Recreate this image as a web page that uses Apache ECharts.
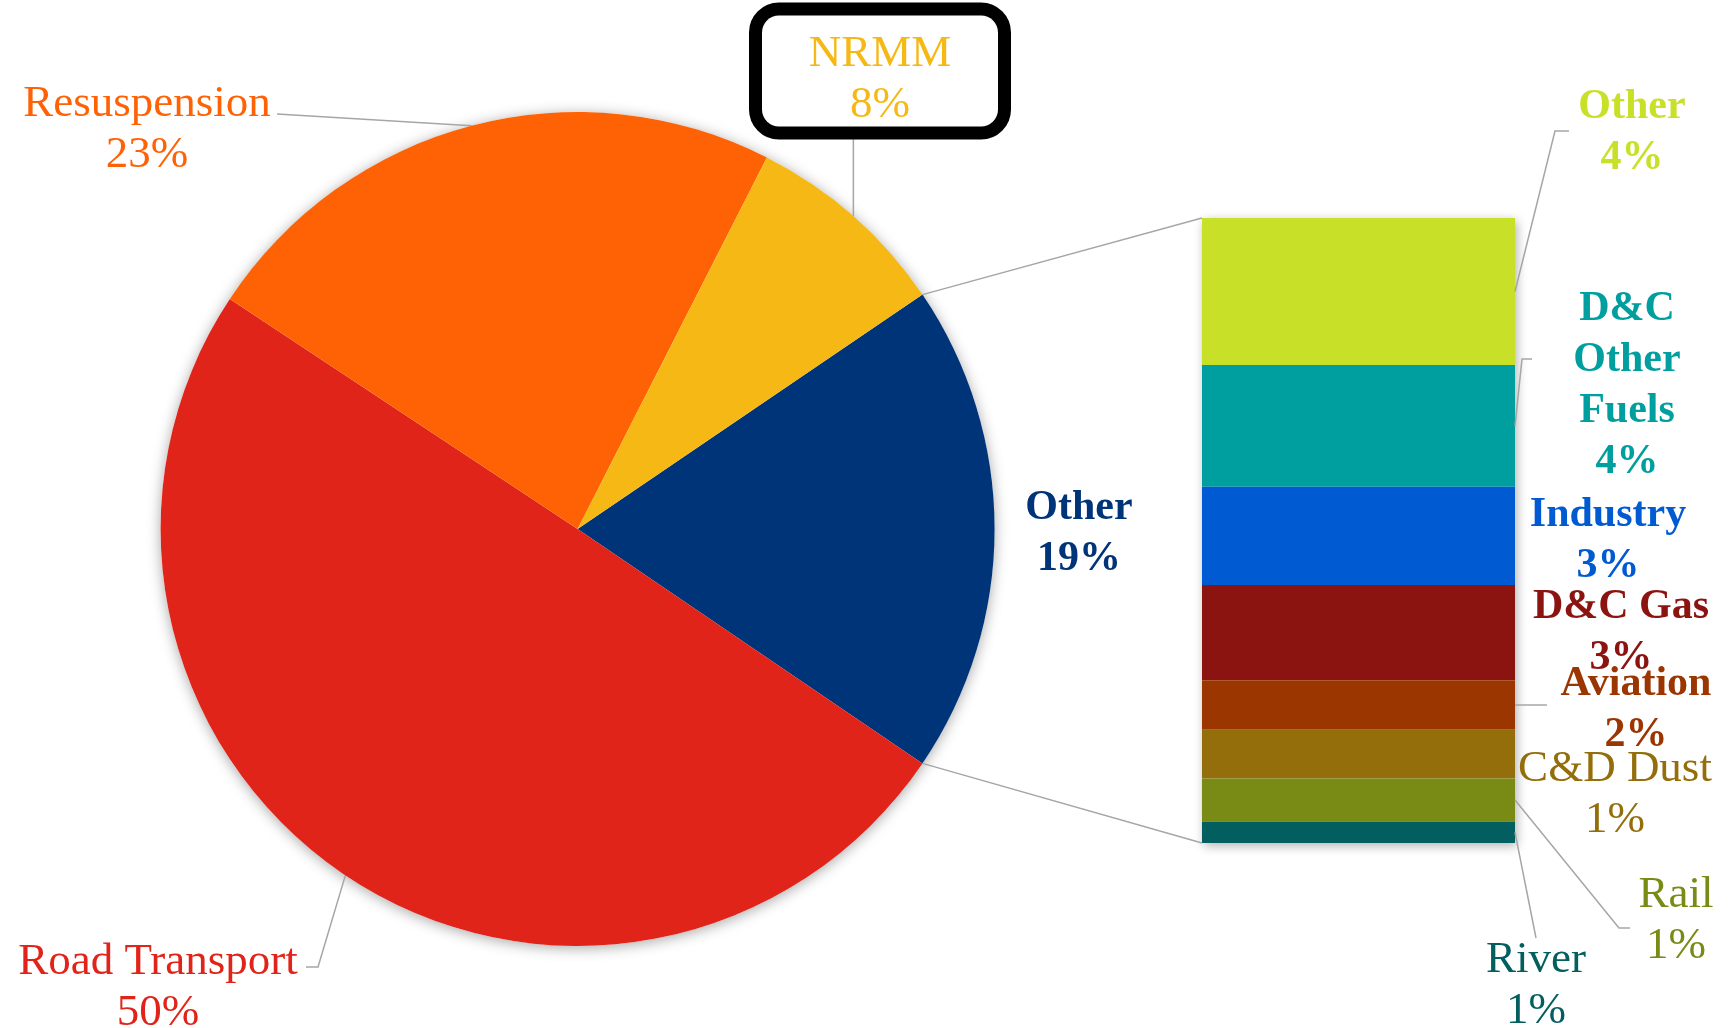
<!DOCTYPE html>
<html>
<head>
<meta charset="utf-8">
<title>PM sources</title>
<script src="https://cdn.jsdelivr.net/npm/echarts@6/dist/echarts.min.js"></script>
<style>
  html, body { margin: 0; padding: 0; background: #ffffff; }
  #chart { width: 1735px; height: 1028px; }
</style>
</head>
<body>
<div id="chart"></div>
<script>
// ---- data -------------------------------------------------------------
// main pie (percent of total), drawn clockwise starting with "Other"
const mainNames  = ['Other', 'Road Transport', 'Resuspension', 'NRMM'];
const mainValues = [19.0, 49.8, 23.2, 8.0];
const mainColors = ['#003479', '#E0241A', '#FF6205', '#F5B815'];

// breakdown of the "Other" slice, top to bottom in the stacked bar
const subNames  = ['Other', 'D&C Other Fuels', 'Industry', 'D&C Gas', 'Aviation', 'C&D Dust', 'Rail', 'River'];
const subLabels = ['Other', 'D&C\nOther\nFuels', 'Industry', 'D&C Gas', 'Aviation', 'C&D Dust', 'Rail', 'River'];
const subValues = [4.47, 3.70, 2.99, 2.89, 1.51, 1.48, 1.31, 0.65];
const subColors = ['#C9E028', '#009F9F', '#005BD3', '#8B1411', '#9B3601', '#946E0A', '#798A15', '#035F5F'];

// ---- layout -----------------------------------------------------------
const FONT = '"Liberation Serif", "Times New Roman", serif';
const LINE_COLOR = '#A6A6A6';
const PIE_CENTER = [577.6, 529];
const PIE_R = 417;
const BAR_BOX = { left: 1202, top: 218, width: 313, height: 625 };

// label placement for the main pie (centre of each text block) and leader elbows;
// the boxed label is anchored by the top edge of its box
const mainSpots = [
  { x: 1079, y: 534, size: 42, weight: 'bold' },
  { x: 158,  y: 988, size: 45, weight: 'normal', line: [[318, 967], [306, 967]] },
  { x: 147,  y: 130, size: 45, weight: 'normal', line: [[277, 114]] },
  { x: 880,  y: 15.5, size: 45, weight: 'normal', line: [[null, 134]], boxed: true }
];

// label placement for the stacked bar and leader elbows (null y = keep start y)
const subSpots = [
  { x: 1632, y: 133, size: 42, weight: 'bold',   line: [[1555, 131], [1569, 131]] },
  { x: 1627, y: 386, size: 42, weight: 'bold',   line: [[1522, 359], [1532, 359]] },
  { x: 1608, y: 541, size: 42, weight: 'bold' },
  { x: 1621, y: 633, size: 42, weight: 'bold' },
  { x: 1636, y: 710, size: 42, weight: 'bold',   line: [[1547, null]] },
  { x: 1615, y: 795, size: 45, weight: 'normal' },
  { x: 1676, y: 921, size: 45, weight: 'normal', line: [[1619, 928], [1630, 928]] },
  { x: 1536, y: 986, size: 45, weight: 'normal', line: [[1536, 938]] }
];

const mainTotal = mainValues.reduce((a, b) => a + b, 0);
const subTotal = subValues.reduce((a, b) => a + b, 0);
// rotate so that the "Other" slice is centred on the 3 o'clock direction
const startAngle = mainValues[0] / mainTotal * 180;
const subStarts = subValues.map((v, i) => subValues.slice(0, i).reduce((a, b) => a + b, 0));

const pct = v => Math.round(v) + '%';

// ---- chart ------------------------------------------------------------
const chart = echarts.init(document.getElementById('chart'), null, { renderer: 'canvas' });

const pieData = mainNames.map((name, i) => {
  const s = mainSpots[i];
  const label = {
    color: mainColors[i],
    fontSize: s.size,
    fontWeight: s.weight
  };
  if (s.boxed) {
    Object.assign(label, {
      backgroundColor: '#ffffff',
      borderColor: '#000000',
      borderWidth: 13,
      borderRadius: 17,
      padding: [13, 0, 0, 0],
      width: 236,
      height: 98,
      align: 'center'
    });
  }
  return {
    name: name,
    value: mainValues[i],
    itemStyle: { color: mainColors[i] },
    label: label,
    labelLine: { show: !!s.line }
  };
});

const subBarSeries = subNames.map((name, i) => {
  const s = subSpots[i];
  return {
    type: 'bar',
    name: name,
    stack: 'other',
    barWidth: '100%',
    barGap: '-100%',
    silent: true,
    z: 3,
    data: [subValues[i]],
    itemStyle: { color: subColors[i] },
    label: {
      show: true,
      formatter: () => subLabels[i] + '\n' + pct(subValues[i]),
      color: subColors[i],
      fontFamily: FONT,
      fontSize: s.size,
      fontWeight: s.weight,
      lineHeight: 51,
      align: 'center'
    },
    labelLayout: { x: s.x, y: s.y, align: 'center', verticalAlign: 'middle' }
  };
});

const option = {
  animation: false,
  backgroundColor: '#ffffff',
  grid: Object.assign({ containLabel: false }, BAR_BOX),
  xAxis: { type: 'category', data: ['Other'], show: false },
  yAxis: { type: 'value', inverse: true, min: 0, max: subTotal, show: false },
  series: [
    // soft drop shadow behind the pie
    {
      type: 'pie',
      center: PIE_CENTER,
      radius: PIE_R,
      silent: true,
      z: 1,
      label: { show: false },
      labelLine: { show: false },
      itemStyle: { color: '#ffffff', shadowBlur: 14, shadowOffsetY: 2, shadowColor: 'rgba(0,0,0,0.35)' },
      data: [{ value: mainTotal }]
    },
    {
      type: 'pie',
      center: PIE_CENTER,
      radius: PIE_R,
      startAngle: startAngle,
      clockwise: true,
      avoidLabelOverlap: false,
      silent: true,
      z: 2,
      emphasis: { disabled: true },
      data: pieData,
      label: {
        show: true,
        position: 'outside',
        fontFamily: FONT,
        lineHeight: 51,
        formatter: p => p.name + '\n' + pct(p.value)
      },
      labelLine: { show: true, lineStyle: { color: LINE_COLOR, width: 1.5 } },
      labelLayout: function (p) {
        const s = mainSpots[p.dataIndex];
        const out = { x: s.x, y: s.y, align: 'center', verticalAlign: s.boxed ? 'top' : 'middle' };
        if (s.line && p.labelLinePoints && p.labelLinePoints[0]) {
          const start = p.labelLinePoints[0];
          const pts = [start.slice()];
          s.line.forEach(q => pts.push([q[0] == null ? start[0] : q[0], q[1] == null ? start[1] : q[1]]));
          if (pts.length === 2) pts.push(pts[1].slice());
          out.labelLinePoints = pts;
        }
        return out;
      }
    },
    // shadow behind the stacked bar
    {
      type: 'bar',
      barWidth: '100%',
      barGap: '-100%',
      silent: true,
      z: 1,
      data: [subTotal],
      itemStyle: { color: '#ffffff', shadowBlur: 10, shadowOffsetX: 2, shadowOffsetY: 3, shadowColor: 'rgba(0,0,0,0.3)' }
    }
  ].concat(subBarSeries).concat([
    // leader lines from bar segments to their labels
    {
      type: 'custom',
      silent: true,
      z: 4,
      data: subValues.map((v, i) => [0, subStarts[i] + v / 2, i]),
      renderItem: function (params, api) {
        const i = api.value(2);
        const s = subSpots[i];
        if (!s.line) return { type: 'group', children: [] };
        const p = api.coord([0, api.value(1)]);
        const half = api.size([1, 0])[0] / 2;
        const pts = [[p[0] + half, p[1]]];
        s.line.forEach(q => pts.push([q[0], q[1] == null ? p[1] : q[1]]));
        return {
          type: 'polyline',
          shape: { points: pts },
          style: { stroke: LINE_COLOR, lineWidth: 1.5, fill: null }
        };
      }
    },
    // connectors from the "Other" slice edges to the bar corners
    {
      type: 'custom',
      silent: true,
      z: 4,
      data: [[0, 0, subTotal]],
      renderItem: function (params, api) {
        const top = api.coord([0, api.value(1)]);
        const bottom = api.coord([0, api.value(2)]);
        const left = top[0] - api.size([1, 0])[0] / 2;
        const a = startAngle * Math.PI / 180;
        const ex = PIE_CENTER[0] + PIE_R * Math.cos(a);
        const dy = PIE_R * Math.sin(a);
        const style = { stroke: LINE_COLOR, lineWidth: 1.5 };
        return {
          type: 'group',
          children: [
            { type: 'line', shape: { x1: ex, y1: PIE_CENTER[1] - dy, x2: left, y2: top[1] }, style: style },
            { type: 'line', shape: { x1: ex, y1: PIE_CENTER[1] + dy, x2: left, y2: bottom[1] }, style: style }
          ]
        };
      }
    }
  ])
};

chart.setOption(option);
</script>
</body>
</html>
